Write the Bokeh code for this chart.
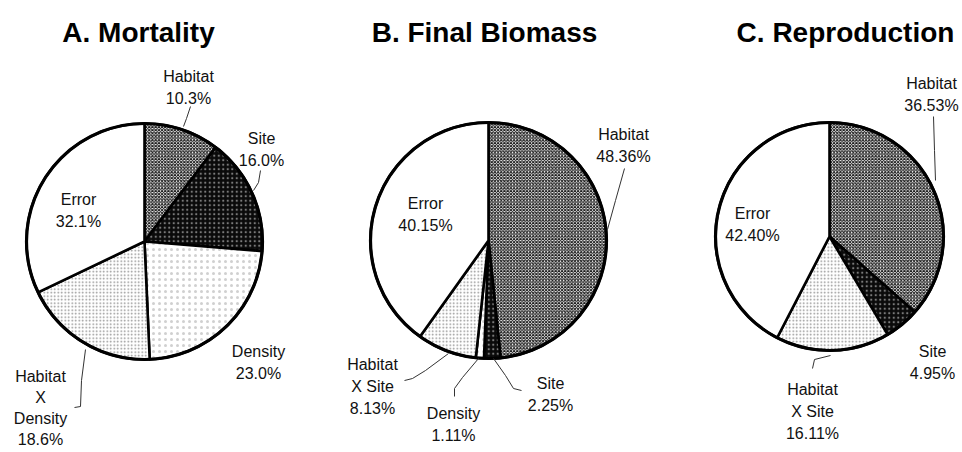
import math
from bokeh.plotting import figure
from bokeh.models import Range1d, ColumnDataSource
from bokeh.core.properties import value
from bokeh.embed import file_html
from bokeh.resources import INLINE

# ---------------- data ----------------
titles = ["A. Mortality", "B. Final Biomass", "C. Reproduction"]

mortality_labels = ["Habitat", "Site", "Density", "Habitat X Density", "Error"]
mortality_values = [10.3, 16.0, 23.0, 18.6, 32.1]
mortality_text = ["Habitat\n10.3%", "Site\n16.0%", "Density\n23.0%", "Habitat\nX\nDensity\n18.6%", "Error\n32.1%"]

biomass_labels = ["Habitat", "Site", "Density", "Habitat X Site", "Error"]
biomass_values = [48.36, 2.25, 1.11, 8.13, 40.15]
biomass_text = ["Habitat\n48.36%", "Site\n2.25%", "Density\n1.11%", "Habitat\nX Site\n8.13%", "Error\n40.15%"]

repro_labels = ["Habitat", "Site", "Habitat X Site", "Error"]
repro_values = [36.53, 4.95, 16.11, 42.40]
repro_text = ["Habitat\n36.53%", "Site\n4.95%", "Habitat\nX Site\n16.11%", "Error\n42.40%"]

# ---------------- styles ----------------
W, H = 962, 452
FONT = "Liberation Sans"

styles = {
    "Habitat": dict(fill="#ffffff", hatch="diagonal_cross", hcolor="#1a1a1a", hscale=3.2, hweight=1.1),
    "Site": dict(fill="#0a0a0a", hatch="dot", hcolor="#7a7a7a", hscale=4.5, hweight=0.5),
    "Density": dict(fill="#ffffff", hatch="dot", hcolor="#d0d0d0", hscale=6.0, hweight=0.5),
    "Habitat X Density": dict(fill="#ffffff", hatch="dot", hcolor="#909090", hscale=3.5, hweight=0.6),
    "Habitat X Site": dict(fill="#ffffff", hatch="dot", hcolor="#909090", hscale=3.5, hweight=0.6),
    "Error": dict(fill="#ffffff", hatch=" ", hcolor="#ffffff", hscale=4.0, hweight=1.0),
}

def px(X):
    return X

def py(Y):
    return H - Y

p = figure(width=W, height=H, output_backend="svg", toolbar_location=None,
           x_range=Range1d(0, W), y_range=Range1d(0, H), min_border=0)
p.axis.visible = False
p.grid.visible = False
p.outline_line_color = None
p.background_fill_color = "white"

# layout per pie: centre (page px), radius, title centre/baseline, label baselines, leader lines
layouts = [
    dict(cx=144, cy=241, r=118, tx=138, ty=32,
         anchors=[(188, 76), (261, 138), (258, 351), (40, 376), (78, 199)],
         leaders=[[(190, 106), (186, 118), (183, 126)],
                  [(260, 170), (258, 182), (253, 190)],
                  [],
                  [(85, 349), (81, 380), (80, 406), (74, 407)],
                  []]),
    dict(cx=488, cy=240, r=118, tx=484, ty=32,
         anchors=[(623, 134), (550, 383), (453, 413), (372, 364), (425, 203)],
         leaders=[[(624, 168), (615, 200), (607, 229)],
                  [(493, 358), (505, 375), (513, 388), (521, 390)],
                  [(478, 358), (462, 377), (454, 388), (454, 396)],
                  [(448, 353), (425, 370), (412, 378), (404, 380)],
                  []]),
    dict(cx=829, cy=236, r=114, tx=845, ty=32,
         anchors=[(931, 83), (932, 351), (812, 389), (752, 213)],
         leaders=[[(933, 116), (934, 150), (935, 180)],
                  [],
                  [(830, 355), (814, 359), (812, 368)],
                  []]),
]

series = [(mortality_labels, mortality_values, mortality_text),
          (biomass_labels, biomass_values, biomass_text),
          (repro_labels, repro_values, repro_text)]

for title, (labels, vals, texts), lay in zip(titles, series, layouts):
    total = sum(vals)
    starts, ends = [], []
    acc = 0.0
    for v in vals:
        a0 = math.pi / 2 - 2 * math.pi * (acc + v) / total
        a1 = math.pi / 2 - 2 * math.pi * acc / total
        starts.append(a0)
        ends.append(a1)
        acc += v
    src = ColumnDataSource(dict(
        x=[px(lay["cx"])] * len(vals), y=[py(lay["cy"])] * len(vals),
        start=starts, end=ends,
        fill=[styles[l]["fill"] for l in labels],
        hatch=[styles[l]["hatch"] for l in labels],
        hcolor=[styles[l]["hcolor"] for l in labels],
        hscale=[styles[l]["hscale"] for l in labels],
        hweight=[styles[l]["hweight"] for l in labels],
    ))
    p.wedge(x="x", y="y", radius=lay["r"], start_angle="start", end_angle="end",
            direction="anticlock", source=src, fill_color="fill",
            hatch_pattern="hatch", hatch_color="hcolor", hatch_scale="hscale",
            hatch_weight="hweight", line_color="black", line_width=2.6)
    p.circle(x=[px(lay["cx"])], y=[py(lay["cy"])], radius=lay["r"],
             fill_color=None, line_color="black", line_width=3.2)

    # title
    p.text(x=[px(lay["tx"])], y=[py(lay["ty"])], text=[title],
           text_font=value(FONT), text_font_style="bold", text_font_size="28px",
           text_align="center", text_baseline="alphabetic", text_color="black")

    # labels (one glyph per line)
    for t, (ax, ay) in zip(texts, lay["anchors"]):
        lines = t.split("\n")
        step = 21 if len(lines) > 3 else 22
        xs = [px(ax)] * len(lines)
        ys = [py(ay + i * step) for i in range(len(lines))]
        p.text(x=xs, y=ys, text=lines, text_font=value(FONT),
               text_font_size="16px", text_align="center",
               text_baseline="alphabetic", text_color="#111111")

    for ld in lay["leaders"]:
        if ld:
            p.line(x=[px(a) for a, b in ld], y=[py(b) for a, b in ld],
                   line_color="#333333", line_width=1)

open("out.html", "w").write(file_html(p, INLINE))
